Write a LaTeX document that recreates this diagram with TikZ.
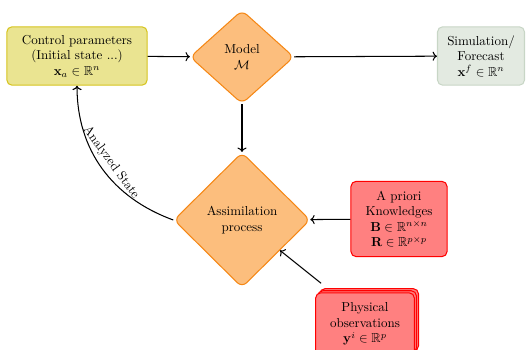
\documentclass[tikz,border=0pt]{standalone}
\usepackage{amsmath,amssymb}
\usetikzlibrary{shapes.geometric,shadows,arrows.meta}
\definecolor{ctrlfill}{RGB}{234,228,145}
\definecolor{ctrldraw}{RGB}{214,196,30}
\definecolor{modfill}{RGB}{252,190,125}
\definecolor{moddraw}{RGB}{245,135,20}
\definecolor{simfill}{RGB}{227,234,225}
\definecolor{simdraw}{RGB}{200,214,198}
\definecolor{redfill}{RGB}{255,128,128}
\definecolor{reddraw}{RGB}{255,0,0}
\tikzset{
  boxbase/.style={rectangle, rounded corners=4pt, align=center, line width=0.8pt, inner sep=2pt},
  ctrlbox/.style={boxbase, fill=ctrlfill, draw=ctrldraw, minimum width=108pt, minimum height=45pt},
  simbox/.style={boxbase, fill=simfill, draw=simdraw, minimum width=67pt, minimum height=45pt},
  redbox/.style={boxbase, fill=redfill, draw=reddraw},
  diam/.style={diamond, rounded corners=5pt, align=center, fill=modfill, draw=moddraw, line width=0.8pt, inner sep=0pt},
  conn/.style={->, thick}
}
\begin{document}
\begin{tikzpicture}[x=0.77pt,y=-0.77pt]
\useasboundingbox (0,0) rectangle (532,350);
\node[ctrlbox] (control) at (77,56) {Control parameters\\(Initial state ...)\\$\mathbf{x}_a\in\mathbb{R}^n$};
\node[diam, minimum width=80pt, minimum height=72pt] (model) at (242,57) {Model\\$\mathcal{M}$};
\node[simbox] (sim) at (481,56) {Simulation/\\Forecast\\$\mathbf{x}^f\in\mathbb{R}^n$};
\node[diam, minimum width=105pt, minimum height=104pt] (assim) at (242,220) {Assimilation\\process};
\node[redbox, minimum width=74pt, minimum height=58pt] (apriori) at (399,219) {A priori\\Knowledges\\$\mathbf{B}\in\mathbb{R}^{n\times n}$\\$\mathbf{R}\in\mathbb{R}^{p\times p}$};
\node[redbox, double copy shadow={shadow xshift=1.6pt, shadow yshift=1.6pt, fill=redfill, draw=reddraw}, minimum width=76pt, minimum height=48pt] (phys) at (365,324) {Physical\\observations\\$\mathbf{y}^i\in\mathbb{R}^p$};
\coordinate (pstart) at ([shift={(6,-9)}]phys.north west);
\draw[conn] (control) -- (model);
\draw[conn] (model) -- (sim);
\draw[conn] (model) -- (assim);
\draw[conn] (apriori) -- (assim);
\draw[conn] (pstart) -- (assim);
\draw[conn] (assim.west) to[out=160,in=-90] node[pos=0.5, sloped, above] {Analyzed State} (control.south);
\end{tikzpicture}
\end{document}
